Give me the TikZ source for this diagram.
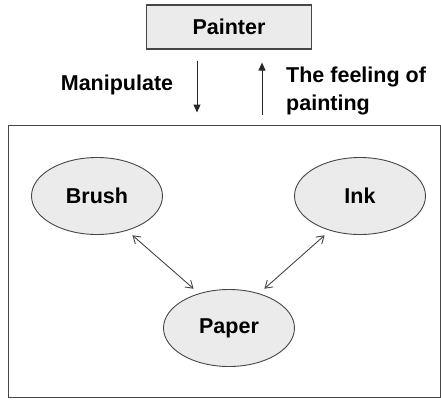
\documentclass[tikz,border=0pt]{standalone}
\usepackage{fontspec}
\setmainfont{Liberation Sans}
\usetikzlibrary{shapes.geometric,arrows.meta}

\definecolor{boxfill}{RGB}{235,235,235}
\definecolor{edgegray}{RGB}{70,70,70}

\tikzset{
  part/.style={ellipse,draw=edgegray,fill=boxfill,line width=0.9pt,
    minimum width=131pt,minimum height=77pt,inner sep=0pt,
    font=\fontsize{21.5}{25}\selectfont\bfseries},
  link/.style={{Straight Barb[length=7pt,width=9pt]}-{Straight Barb[length=7pt,width=9pt]},
    line width=0.9pt,edgegray,shorten >=7pt,shorten <=7pt},
  flow/.style={-{Triangle[length=8pt,width=7pt]},line width=1pt,black!85}
}

\begin{document}
\begin{tikzpicture}[x=1pt,y=-1pt]
  \useasboundingbox (0,0) rectangle (441,399);
  % the user on top
  \node[draw=edgegray,fill=boxfill,line width=1.2pt,minimum width=165pt,minimum height=44pt,
    inner sep=0pt,font=\fontsize{21.5}{25}\selectfont\bfseries] (painter) at (229,27) {Painter};
  % the tool set
  \node[draw=edgegray,line width=1pt,minimum width=432pt,minimum height=272pt,inner sep=0pt]
    (world) at (224,261) {};
  \node[part] (brush) at (97,196) {Brush};
  \node[part] (ink) at (360,196) {Ink};
  \node[part] (paper) at (229,328) {Paper};
  \draw[link] (brush.-49) -- (paper.131);
  \draw[link] (ink.-131) -- (paper.49);
  % between user and tools
  \draw[flow] ([xshift=-32pt,yshift=-11pt]painter.south) -- ([xshift=-27pt,yshift=12pt]world.north);
  \draw[flow] ([xshift=38pt,yshift=10pt]world.north) -- ([xshift=33pt,yshift=-13pt]painter.south);
  \node[font=\fontsize{21.5}{25}\selectfont\bfseries] (manip) at (117,85) {Manipulate};
  \node[font=\fontsize{21.5}{28}\selectfont\bfseries,align=left,anchor=west,inner sep=0pt]
    (feel) at (286,91) {The feeling of\\painting};
\end{tikzpicture}
\end{document}
